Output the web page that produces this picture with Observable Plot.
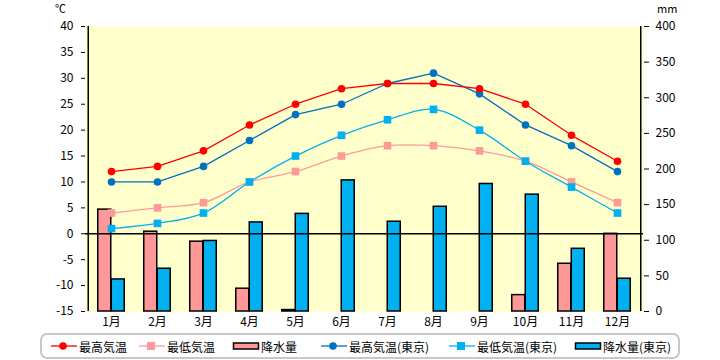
<!DOCTYPE html>
<html><head><meta charset="utf-8">
<script src="https://cdn.jsdelivr.net/npm/d3@7"></script>
<script src="https://cdn.jsdelivr.net/npm/@observablehq/plot@0.6"></script>
<style>
body{margin:0;background:#fff;font-family:"Noto Sans CJK JP",sans-serif;}
#wrap{position:relative;width:720px;height:360px;}
.unit{position:absolute;font-size:11px;color:#000;line-height:13px;}
#legend{position:absolute;left:40px;top:333px;width:636px;height:22px;border:2px solid #c8c8c8;border-radius:7px;}
.li{position:absolute;top:0;height:22px;display:flex;align-items:center;font-size:12px;color:#000;white-space:nowrap;}
.li svg{margin-right:1px;}
</style></head>
<body><div id="wrap"></div>
<script>
const months = ["1月","2月","3月","4月","5月","6月","7月","8月","9月","10月","11月","12月"];
const maxTemp = [12,13,16,21,25,28,29,29,28,25,19,14];
const minTemp = [4,5,6,10,12,15,17,17,16,14,10,6];
const rain = [143,112,98,32,2,0,0,0,0,23,67,109];
const maxTempTokyo = [10,10,13,18,23,25,29,31,27,21,17,12];
const minTempTokyo = [1,2,4,10,15,19,22,24,20,14,9,4];
const rainTokyo = [45,60,99,125,137,184,126,147,179,164,88,46];
const tempTicks = [-15,-10,-5,0,5,10,15,20,25,30,35,40];
const rainTicks = [0,50,100,150,200,250,300,350,400];

const legendItems = [
  {label:"最高気温", kind:"dot", color:"#ff0000"},
  {label:"最低気温", kind:"square", color:"#ff9999"},
  {label:"降水量", kind:"bar", color:"#ff9999"},
  {label:"最高気温(東京)", kind:"dot", color:"#0070c0"},
  {label:"最低気温(東京)", kind:"square", color:"#00b0f0"},
  {label:"降水量(東京)", kind:"bar", color:"#00b0f0"}
];

const toT = mm => -15 + mm * 55 / 400;
const toMM = t => Math.round((t + 15) * 400 / 55);

const rows = months.map((m,i) => ({m, maxT:maxTemp[i], minT:minTemp[i], rain:rain[i],
  maxTk:maxTempTokyo[i], minTk:minTempTokyo[i], rainTk:rainTokyo[i]}));

const half = (643-85)/12/2;
const barW = 13.5;

const chart = Plot.plot({
  width:720, height:332,
  marginTop:26, marginBottom:21, marginLeft:85, marginRight:77,
  style:{fontFamily:'"Noto Sans CJK JP",sans-serif', fontSize:"12px", background:"transparent", color:"#000"},
  x:{type:"band", domain:months, padding:0, label:null},
  y:{domain:[-15,40], label:null},
  marks:[
    Plot.frame({fill:"#ffffcc", stroke:null}),
    Plot.barY(rows, {x:"m", y1:-15, y2:d=>toT(d.rain), fill:"#ff9999", stroke:"#000", strokeWidth:1.5, insetLeft:half-barW, insetRight:half}),
    Plot.barY(rows, {x:"m", y1:-15, y2:d=>toT(d.rainTk), fill:"#00b0f0", stroke:"#000", strokeWidth:1.5, insetLeft:half, insetRight:half-barW}),
    Plot.ruleY([0], {stroke:"#000", strokeWidth:1.5}),
    Plot.line(rows, {x:"m", y:"minT", stroke:"#ff9999", strokeWidth:1.3, curve:"catmull-rom"}),
    Plot.dot(rows, {x:"m", y:"minT", symbol:"square", fill:"#ff9999", r:4.3}),
    Plot.line(rows, {x:"m", y:"minTk", stroke:"#00b0f0", strokeWidth:1.3, curve:"catmull-rom"}),
    Plot.dot(rows, {x:"m", y:"minTk", symbol:"square", fill:"#00b0f0", r:4.3}),
    Plot.line(rows, {x:"m", y:"maxTk", stroke:"#0070c0", strokeWidth:1.3}),
    Plot.dot(rows, {x:"m", y:"maxTk", fill:"#0070c0", r:3.8}),
    Plot.line(rows, {x:"m", y:"maxT", stroke:"#ff0000", strokeWidth:1.3}),
    Plot.dot(rows, {x:"m", y:"maxT", fill:"#ff0000", r:3.8}),
    Plot.ruleX([months[0]], {stroke:"#000", strokeWidth:1.5, y1:-15, y2:40, dx:-half}),
    Plot.axisY({anchor:"left", ticks:tempTicks, tickSize:4, tickPadding:8, tickFormat:d=>d.toString().replace("-","−").replace("−","-"), label:null}),
    Plot.axisY({anchor:"right", ticks:rainTicks.map(toT), tickSize:5, tickPadding:7, tickFormat:d=>String(toMM(d)), label:null}),
    Plot.ruleX([months[11]], {stroke:"#000", strokeWidth:1.5, y1:-15, y2:40, dx:half}),
    Plot.axisX({anchor:"bottom", tickSize:0, tickPadding:6, label:null})
  ]
});

const wrap = document.getElementById("wrap");
wrap.appendChild(chart);
chart.style.position = "absolute"; chart.style.left = "0"; chart.style.top = "0";

const u1 = document.createElement("div"); u1.className="unit"; u1.textContent="℃"; u1.style.left="55px"; u1.style.top="2px"; wrap.appendChild(u1);
const u2 = document.createElement("div"); u2.className="unit"; u2.textContent="mm"; u2.style.left="657px"; u2.style.top="2px"; wrap.appendChild(u2);

const lg = document.createElement("div"); lg.id="legend"; wrap.appendChild(lg);
const lefts = [8, 96, 190, 278, 406, 532];
legendItems.forEach((it,i) => {
  const d = document.createElement("div"); d.className="li"; d.style.left = lefts[i]+"px";
  let sw = "";
  if (it.kind==="dot") sw = `<svg width="28" height="12"><line x1="1" x2="27" y1="6" y2="6" stroke="${it.color}" stroke-width="1.3"/><circle cx="13" cy="6" r="3.8" fill="${it.color}"/></svg>`;
  else if (it.kind==="square") sw = `<svg width="28" height="12"><line x1="1" x2="27" y1="6" y2="6" stroke="${it.color}" stroke-width="1.3"/><rect x="9" y="2" width="8" height="8" fill="${it.color}"/></svg>`;
  else sw = `<svg width="28" height="12"><rect x="1.5" y="3" width="25" height="6" fill="${it.color}" stroke="#000" stroke-width="1.5"/></svg>`;
  d.innerHTML = sw + `<span>${it.label}</span>`;
  lg.appendChild(d);
});
</script></body></html>
